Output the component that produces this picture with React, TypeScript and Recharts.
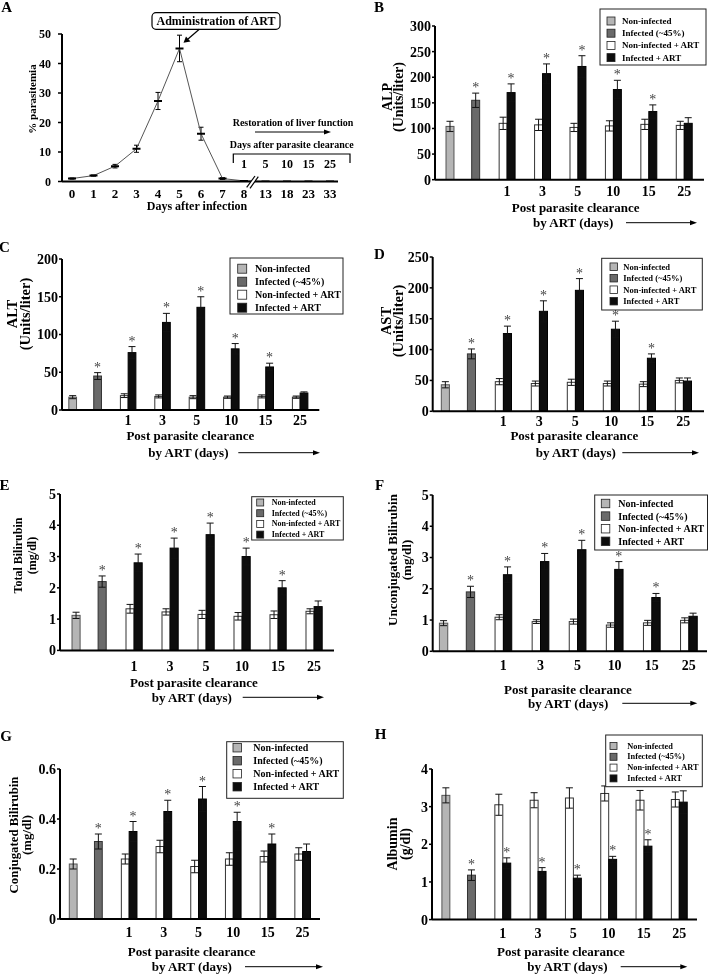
import React from 'react';
import { BarChart, Bar, XAxis, YAxis, ErrorBar, LineChart, Line } from 'recharts';

const FONT = '"Liberation Serif", "Times New Roman", Times, serif';

// ---------------- Panel A data ----------------
const infectionDays = ['0', '1', '2', '3', '4', '5', '6', '7', '8', '13', '18', '23', '33'];
const parasitemia = [1.0, 2.0, 5.2, 11.1, 27.3, 45.1, 16.2, 1.0, 0.2, 0, 0, 0, 0];
const parasitemiaErr = [0.2, 0.2, 0.6, 1.2, 2.9, 4.5, 2.2, 0.3, 0, 0, 0, 0, 0];
const parasitemiaTicks = [0, 10, 20, 30, 40, 50];
const clearanceDays = ['1', '5', '10', '15', '25'];

// ---------------- Shared bar-panel data ----------------
const groupDays = ['1', '3', '5', '10', '15', '25'];
const legendLabels = ['Non-infected', 'Infected (~45%)', 'Non-infected + ART', 'Infected + ART'];
const infARTSignificant = [true, true, true, true, true, false];

// B: ALP (Units/liter)  [non-infected, infected]
const alpSingle = [104, 155];
const alpSingleErr = [10, 14];
const alpNonInfART = [110, 107, 102, 105, 108, 106];
const alpNonInfARTErr = [12, 11, 8, 10, 10, 8];
const alpInfART = [170, 207, 221, 176, 133, 110];
const alpInfARTErr = [17, 19, 21, 18, 13, 11];
const alpTicks = [0, 50, 100, 150, 200, 250, 300];

// C: ALT
const altSingle = [17, 45];
const altSingleErr = [2, 4.5];
const altNonInfART = [19, 18, 17, 17, 18, 17];
const altNonInfARTErr = [2.5, 2, 2, 1.5, 2, 1.5];
const altInfART = [76, 116, 136, 81, 57, 22.5];
const altInfARTErr = [8, 12, 14, 7, 5, 1.5];
const altTicks = [0, 50, 100, 150, 200];

// D: AST
const astSingle = [43, 93];
const astSingleErr = [5, 8];
const astNonInfART = [48, 45, 47, 45, 44, 50];
const astNonInfARTErr = [5, 4, 5, 4, 4, 4];
const astInfART = [126, 162, 196, 133, 86, 49];
const astInfARTErr = [12, 17, 19, 13, 7, 5];
const astTicks = [0, 50, 100, 150, 200, 250];

// E: Total bilirubin
const tbilSingle = [1.12, 2.2];
const tbilSingleErr = [0.1, 0.18];
const tbilNonInfART = [1.33, 1.23, 1.15, 1.09, 1.14, 1.25];
const tbilNonInfARTErr = [0.14, 0.1, 0.13, 0.12, 0.12, 0.08];
const tbilInfART = [2.8, 3.27, 3.7, 3.0, 2.0, 1.4];
const tbilInfARTErr = [0.28, 0.32, 0.37, 0.27, 0.23, 0.18];
const bilTicks = [0, 1, 2, 3, 4, 5];

// F: Unconjugated bilirubin
const ubilSingle = [0.9, 1.9];
const ubilSingleErr = [0.08, 0.18];
const ubilNonInfART = [1.09, 0.95, 0.95, 0.84, 0.91, 0.99];
const ubilNonInfARTErr = [0.08, 0.06, 0.08, 0.07, 0.08, 0.08];
const ubilInfART = [2.45, 2.87, 3.25, 2.62, 1.72, 1.12];
const ubilInfARTErr = [0.25, 0.26, 0.3, 0.25, 0.13, 0.1];

// G: Conjugated bilirubin
const cbilSingle = [0.22, 0.31];
const cbilSingleErr = [0.02, 0.03];
const cbilNonInfART = [0.24, 0.29, 0.21, 0.24, 0.25, 0.26];
const cbilNonInfARTErr = [0.02, 0.025, 0.025, 0.025, 0.022, 0.025];
const cbilInfART = [0.35, 0.43, 0.48, 0.39, 0.3, 0.27];
const cbilInfARTErr = [0.04, 0.045, 0.05, 0.037, 0.04, 0.03];
const cbilTicks = [0, 0.2, 0.4, 0.6];

// H: Albumin
const albSingle = [3.3, 1.18];
const albSingleErr = [0.2, 0.14];
const albNonInfART = [3.05, 3.17, 3.23, 3.35, 3.17, 3.19];
const albNonInfARTErr = [0.28, 0.2, 0.27, 0.2, 0.26, 0.2];
const albInfART = [1.5, 1.28, 1.1, 1.6, 1.95, 3.12];
const albInfARTErr = [0.14, 0.1, 0.08, 0.08, 0.17, 0.3];
const albTicks = [0, 1, 2, 3, 4];

// ---------------- Styles ----------------
const FILLS = ['#b5b5b5', '#6a6a6a', '#ffffff', '#0d0d0d'];
const STROKES = ['#555', '#333', '#333', '#000'];

type Row = {
  key: string; label: string;
  a: number | null; aErr: number | null; aKind: number;
  b: number | null; bErr: number | null; bKind: number; star: boolean;
};

function buildRows(single: number[], singleErr: number[], na: number[], naErr: number[], ia: number[], iaErr: number[]): Row[] {
  const rows: Row[] = [];
  const empty = (): Row => ({ key: 'k' + rows.length, label: '', a: null, aErr: null, aKind: 0, b: null, bErr: null, bKind: 0, star: false });
  rows.push({ key: 'k0', label: '', a: single[0], aErr: singleErr[0], aKind: 0, b: null, bErr: null, bKind: 1, star: false });
  rows.push({ key: 'k1', label: '', a: null, aErr: null, aKind: 0, b: single[1], bErr: singleErr[1], bKind: 1, star: true });
  rows.push(empty());
  groupDays.forEach((d, k) => {
    rows.push({ key: 'k' + rows.length, label: d, a: na[k], aErr: naErr[k], aKind: 2, b: ia[k], bErr: iaErr[k], bKind: 3, star: infARTSignificant[k] });
    if (k < groupDays.length - 1) rows.push(empty());
  });
  return rows;
}

type Layout = {
  left: number; axisX: number; plotTop: number; plotBottom: number; plotRight: number;
  padL: number; padR: number; barW: number; tickGap: number;
};

const tick14 = { fontSize: 14, fontWeight: 700, fill: '#000', fontFamily: FONT };

function BarPanel({ rows, ticks, layout }: { rows: Row[]; ticks: number[]; layout: Layout }) {
  const YW = 40;
  const width = 354;
  const top = layout.plotTop - 10;
  const height = 10 + (layout.plotBottom - layout.plotTop) + 30;
  const margin = { top: 10, right: layout.left + width - layout.plotRight, bottom: 0, left: layout.axisX - layout.left - YW };
  const labelOf: Record<string, string> = {};
  rows.forEach((r) => { labelOf[r.key] = r.label; });

  const shapeA = (p: any) => {
    const r: Row = p.payload && p.payload.key ? p.payload : rows[p.index];
    if (!r || r.a == null || !isFinite(p.height) || !isFinite(p.y)) return <g />;
    return <rect x={p.x} y={p.y} width={p.width} height={p.height} fill={FILLS[r.aKind]} stroke={STROKES[r.aKind]} strokeWidth={1} />;
  };
  const shapeB = (p: any) => {
    const r: Row = p.payload && p.payload.key ? p.payload : rows[p.index];
    if (!r || r.b == null || !isFinite(p.height) || !isFinite(p.y)) return <g />;
    const h = Math.abs(p.height);
    const pxPerUnit = r.b ? h / r.b : 0;
    const errTop = p.y - (r.bErr || 0) * pxPerUnit;
    return (
      <g>
        <rect x={p.x} y={p.y} width={p.width} height={p.height} fill={FILLS[r.bKind]} stroke={STROKES[r.bKind]} strokeWidth={1} />
        {r.star ? (
          <text x={p.x + p.width / 2} y={errTop - 1} textAnchor="middle" fontSize={14} fill="#444" fontFamily={FONT}>*</text>
        ) : null}
      </g>
    );
  };

  return (
    <div style={{ position: 'absolute', left: layout.left, top, width, height }}>
      <BarChart width={width} height={height} data={rows} margin={margin} barGap={0} barCategoryGap={0}>
        <XAxis
          dataKey="key"
          type="category"
          interval={0}
          tickLine={false}
          axisLine={{ stroke: '#000', strokeWidth: 2 }}
          tickSize={layout.tickGap}
          tickMargin={2}
          height={30}
          padding={{ left: layout.padL, right: layout.padR }}
          tickFormatter={(v: any) => labelOf[v] ?? ''}
          tick={tick14}
        />
        <YAxis
          type="number"
          domain={[0, ticks[ticks.length - 1]]}
          ticks={ticks}
          interval={0}
          allowDataOverflow
          width={YW}
          axisLine={{ stroke: '#000', strokeWidth: 2 }}
          tickLine={{ stroke: '#000', strokeWidth: 1.5 }}
          tickSize={3}
          tickMargin={1}
          tick={tick14}
        />
        <Bar dataKey="a" barSize={layout.barW} shape={shapeA} isAnimationActive={false}>
          <ErrorBar dataKey="aErr" width={3.5} stroke="#111" strokeWidth={1} direction="y" />
        </Bar>
        <Bar dataKey="b" barSize={layout.barW} shape={shapeB} isAnimationActive={false}>
          <ErrorBar dataKey="bErr" width={3.5} stroke="#111" strokeWidth={1} direction="y" />
        </Bar>
      </BarChart>
    </div>
  );
}

function PanelA() {
  const rows = infectionDays.map((d, i) => ({ day: d, v: parasitemia[i], err: parasitemiaErr[i] }));
  const plotTop = 34, plotBottom = 181.5;
  const height = 10 + (plotBottom - plotTop) + 30;
  const dashDot = (p: any) => (
    <line key={'d' + p.index} x1={p.cx - 4} x2={p.cx + 4} y1={p.cy} y2={p.cy} stroke="#000" strokeWidth={2} />
  );
  return (
    <div style={{ position: 'absolute', left: 0, top: plotTop - 10, width: 354, height }}>
      <LineChart width={354} height={height} data={rows} margin={{ top: 10, right: 16, left: 22, bottom: 0 }}>
        <XAxis
          dataKey="day"
          interval={0}
          tickLine={false}
          axisLine={{ stroke: '#000', strokeWidth: 2 }}
          padding={{ left: 10, right: 8 }}
          tickSize={5}
          tickMargin={2}
          height={30}
          tick={{ fontSize: 13, fontWeight: 700, fill: '#000', fontFamily: FONT }}
        />
        <YAxis
          type="number"
          domain={[0, 50]}
          ticks={parasitemiaTicks}
          interval={0}
          allowDataOverflow
          width={40}
          axisLine={{ stroke: '#000', strokeWidth: 2 }}
          tickLine={{ stroke: '#000', strokeWidth: 1.5 }}
          tickSize={4}
          tickMargin={7}
          tick={{ fontSize: 12, fontWeight: 700, fill: '#000', fontFamily: FONT }}
        />
        <Line dataKey="v" stroke="#555" strokeWidth={1} dot={dashDot} activeDot={false} isAnimationActive={false}>
          <ErrorBar dataKey="err" width={2.5} stroke="#000" strokeWidth={1} direction="y" />
        </Line>
      </LineChart>
    </div>
  );
}

// ---------------- Overlay helpers ----------------
const T = (props: any) => (
  <text fontFamily={FONT} fontWeight="bold" fill="#000" dominantBaseline="central" {...props} />
);

function YLabel({ lines, cy, font }: { lines: { t: string; x: number }[]; cy: number; font: number }) {
  return (
    <g>
      {lines.map((l, i) => (
        <T key={i} x={l.x} y={cy} fontSize={font} textAnchor="middle" transform={`rotate(-90 ${l.x} ${cy})`}>{l.t}</T>
      ))}
    </g>
  );
}

function XTitle({ cx, y1, byStart, y2, a1, a2 }: { cx: number; y1: number; byStart: number; y2: number; a1: number; a2: number }) {
  return (
    <g>
      <T x={cx} y={y1} fontSize={13} textAnchor="middle">Post parasite clearance</T>
      <T x={byStart} y={y2} fontSize={13} textAnchor="start">by ART (days)</T>
      <line x1={a1} x2={a2 - 6} y1={y2} y2={y2} stroke="#000" strokeWidth={1} />
      <path d={`M${a2},${y2} L${a2 - 7},${y2 - 2.5} L${a2 - 7},${y2 + 2.5} Z`} fill="#000" />
    </g>
  );
}

function LegendBox({ x, y, w, h, firstY, gap, swX, sw, textX, font }: any) {
  return (
    <g>
      <rect x={x} y={y} width={w} height={h} fill="#fff" stroke="#222" strokeWidth={1} />
      {legendLabels.map((t, i) => (
        <g key={i}>
          <rect x={swX} y={firstY + i * gap - sw / 2} width={sw} height={sw} fill={FILLS[i]} stroke="#222" strokeWidth={0.8} />
          <T x={textX} y={firstY + i * gap} fontSize={font} textAnchor="start">{t}</T>
        </g>
      ))}
    </g>
  );
}

function Letter({ x, y, t }: { x: number; y: number; t: string }) {
  return <T x={x} y={y} fontSize={15} textAnchor="middle">{t}</T>;
}

const layoutB: Layout = { left: 354, axisX: 435, plotTop: 26.3, plotBottom: 180, plotRight: 704, padL: 10, padR: 11, barW: 11, tickGap: 4.7 };
const layoutC: Layout = { left: 0, axisX: 62, plotTop: 259, plotBottom: 410, plotRight: 319.3, padL: 5.8, padR: 10.7, barW: 10, tickGap: 2.7 };
const layoutD: Layout = { left: 354, axisX: 432.7, plotTop: 256.7, plotBottom: 411, plotRight: 704, padL: 7.6, padR: 11.7, barW: 10.5, tickGap: 2.4 };
const layoutE: Layout = { left: 0, axisX: 60, plotTop: 494.3, plotBottom: 650.7, plotRight: 334, padL: 11, padR: 11, barW: 10.7, tickGap: 8.7 };
const layoutF: Layout = { left: 354, axisX: 432.7, plotTop: 495, plotBottom: 651.3, plotRight: 707, padL: 5.7, padR: 8.9, barW: 10.7, tickGap: 6.4 };
const layoutG: Layout = { left: 0, axisX: 60, plotTop: 769, plotBottom: 919, plotRight: 320, padL: 8.3, padR: 8.8, barW: 10.5, tickGap: 6 };
const layoutH: Layout = { left: 354, axisX: 432, plotTop: 768.7, plotBottom: 919.3, plotRight: 697, padL: 8.9, padR: 9, barW: 11.3, tickGap: 6.7 };

export default function App() {
  const rowsB = buildRows(alpSingle, alpSingleErr, alpNonInfART, alpNonInfARTErr, alpInfART, alpInfARTErr);
  const rowsC = buildRows(altSingle, altSingleErr, altNonInfART, altNonInfARTErr, altInfART, altInfARTErr);
  const rowsD = buildRows(astSingle, astSingleErr, astNonInfART, astNonInfARTErr, astInfART, astInfARTErr);
  const rowsE = buildRows(tbilSingle, tbilSingleErr, tbilNonInfART, tbilNonInfARTErr, tbilInfART, tbilInfARTErr);
  const rowsF = buildRows(ubilSingle, ubilSingleErr, ubilNonInfART, ubilNonInfARTErr, ubilInfART, ubilInfARTErr);
  const rowsG = buildRows(cbilSingle, cbilSingleErr, cbilNonInfART, cbilNonInfARTErr, cbilInfART, cbilInfARTErr);
  const rowsH = buildRows(albSingle, albSingleErr, albNonInfART, albNonInfARTErr, albInfART, albInfARTErr);

  return (
    <div style={{ position: 'absolute', left: 0, top: 0, width: 708, height: 974, background: '#fff', overflow: 'hidden', fontFamily: FONT, filter: 'grayscale(100%)' }}>
      <PanelA />
      <BarPanel rows={rowsB} ticks={alpTicks} layout={layoutB} />
      <BarPanel rows={rowsC} ticks={altTicks} layout={layoutC} />
      <BarPanel rows={rowsD} ticks={astTicks} layout={layoutD} />
      <BarPanel rows={rowsE} ticks={bilTicks} layout={layoutE} />
      <BarPanel rows={rowsF} ticks={bilTicks} layout={layoutF} />
      <BarPanel rows={rowsG} ticks={cbilTicks} layout={layoutG} />
      <BarPanel rows={rowsH} ticks={albTicks} layout={layoutH} />

      <svg width={708} height={974} style={{ position: 'absolute', left: 0, top: 0, pointerEvents: 'none' }}>
        {/* Panel letters */}
        <Letter x={6.7} y={6.7} t="A" />
        <Letter x={379} y={6.5} t="B" />
        <Letter x={4.5} y={247} t="C" />
        <Letter x={379.3} y={254} t="D" />
        <Letter x={4.5} y={484.7} t="E" />
        <Letter x={379.5} y={484.7} t="F" />
        <Letter x={6.2} y={736} t="G" />
        <Letter x={380.7} y={733.8} t="H" />

        {/* Panel A annotations */}
        <YLabel lines={[{ t: '% parasitemia', x: 32 }]} cy={99} font={11} />
        <T x={197} y={206} fontSize={12} textAnchor="middle">Days after infection</T>
        <rect x={152} y={12.7} width={128} height={16.6} rx={4} fill="#fff" stroke="#000" strokeWidth={1.2} />
        <T x={216} y={21.2} fontSize={12} textAnchor="middle">Administration of ART</T>
        <line x1={199.3} y1={29.3} x2={188} y2={39} stroke="#000" strokeWidth={1.2} />
        <path d="M183.5,42.8 L186,36.5 L190.5,41.5 Z" fill="#000" />
        <T x={293} y={122.7} fontSize={10} textAnchor="middle">Restoration of liver function</T>
        <line x1={255} x2={325} y1={132} y2={132} stroke="#000" strokeWidth={1} />
        <path d="M331,132 L324,129.5 L324,134.5 Z" fill="#000" />
        <T x={291.7} y={144} fontSize={10} textAnchor="middle">Days after parasite clearance</T>
        <path d="M233.3,163 V154 H350 V163" fill="none" stroke="#000" strokeWidth={1.2} />
        {clearanceDays.map((d, i) => (
          <T key={d} x={244 + i * 21.5} y={164} fontSize={12} textAnchor="middle">{d}</T>
        ))}
        <polygon points="246.7,187.3 255,176 258.3,176.7 250,188.3" fill="#fff" />
        <line x1={246.7} y1={187.3} x2={255} y2={176} stroke="#000" strokeWidth={1.2} />
        <line x1={250} y1={188.3} x2={258.3} y2={176.7} stroke="#000" strokeWidth={1.2} />

        {/* Panel B */}
        <YLabel lines={[{ t: 'ALP', x: 387 }, { t: '(Units/liter)', x: 398 }]} cy={97} font={14} />
        <XTitle cx={575.7} y1={207.5} byStart={533} y2={222.7} a1={626} a2={697} />
        <LegendBox x={600} y={9} w={106} h={56} firstY={21} gap={12.2} swX={607} sw={8} textX={622} font={9} />

        {/* Panel C */}
        <YLabel lines={[{ t: 'ALT', x: 12 }, { t: '(Units/liter)', x: 25 }]} cy={314} font={14.5} />
        <XTitle cx={190.3} y1={435} byStart={148.3} y2={452.7} a1={238.3} a2={320} />
        <LegendBox x={230} y={258} w={113} h={56} firstY={268.7} gap={13} swX={237.7} sw={9} textX={255} font={10} />

        {/* Panel D */}
        <YLabel lines={[{ t: 'AST', x: 385.5 }, { t: '(Units/liter)', x: 398 }]} cy={321} font={14.5} />
        <XTitle cx={574.3} y1={435} byStart={535.7} y2={452.7} a1={622.3} a2={699} />
        <LegendBox x={601.7} y={258.3} w={100.6} h={51.7} firstY={266.7} gap={11.5} swX={610} sw={7.5} textX={623.3} font={8.5} />

        {/* Panel E */}
        <YLabel lines={[{ t: 'Total Bilirubin', x: 18.3 }, { t: '(mg/dl)', x: 32 }]} cy={555.5} font={12} />
        <XTitle cx={193.8} y1={682.7} byStart={151.7} y2={697.3} a1={242.7} a2={324} />
        <LegendBox x={251.7} y={496.7} w={91.6} h={43.3} firstY={502.5} gap={10.7} swX={256.7} sw={7} textX={271.7} font={8} />

        {/* Panel F */}
        <YLabel lines={[{ t: 'Unconjugated Bilirubin', x: 392.3 }, { t: '(mg/dl)', x: 406.5 }]} cy={560} font={13} />
        <XTitle cx={568} y1={689.3} byStart={528} y2={703.3} a1={622.3} a2={697.3} />
        <LegendBox x={594.7} y={495} w={112.8} h={55} firstY={503.5} gap={12.6} swX={601.3} sw={8.5} textX={618.3} font={10} />

        {/* Panel G */}
        <YLabel lines={[{ t: 'Conjugated Bilirubin', x: 13.8 }, { t: '(mg/dl)', x: 26.7 }]} cy={835} font={12.8} />
        <XTitle cx={191.7} y1={951} byStart={151.7} y2={966.7} a1={245} a2={323} />
        <LegendBox x={226.7} y={741.7} w={116.6} h={56.6} firstY={747.7} gap={13} swX={233} sw={8.5} textX={253.3} font={10} />

        {/* Panel H */}
        <YLabel lines={[{ t: 'Albumin', x: 392.3 }, { t: '(g/dl)', x: 405.7 }]} cy={844} font={14} />
        <XTitle cx={561} y1={951.7} byStart={527.3} y2={966.7} a1={620.7} a2={687.3} />
        <LegendBox x={605.7} y={735} w={96.6} h={51.7} firstY={746} gap={10.8} swX={610} sw={7} textX={627.3} font={8.3} />
      </svg>
    </div>
  );
}
